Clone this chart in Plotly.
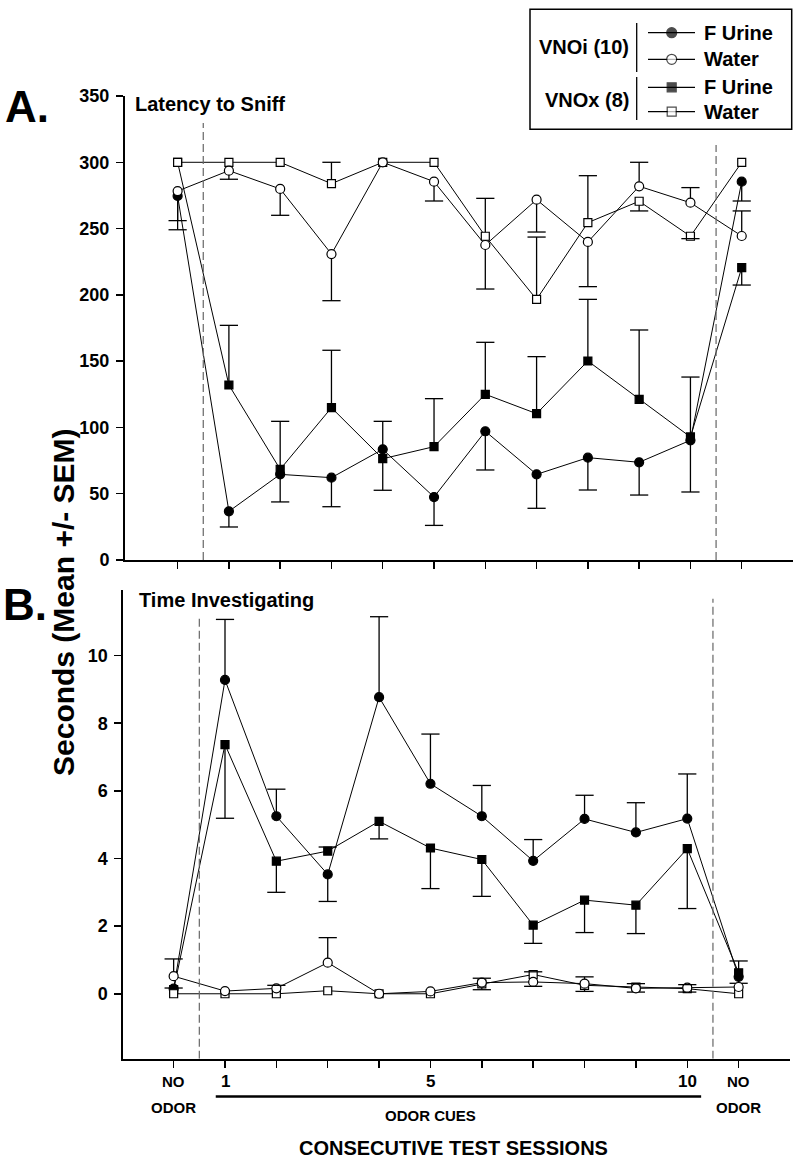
import plotly.graph_objects as go

# x positions: 0 = pre "NO ODOR", 1..10 odor-cue sessions, 11 = post "NO ODOR"
sessions = list(range(12))

# ---------- Panel A: Latency to Sniff (s) ----------
latA_vnoi_urine = [274.6, 36.7, 64.6, 62.1, 83.5, 47.5, 97.1, 64.6, 77.2, 73.7, 90.3, 285.4]
latA_vnoi_urine_up = [0, 0, 0, 0, 0, 0, 0, 0, 0, 0, 0, 0]
latA_vnoi_urine_dn = [25.5, 11.8, 20.8, 21.9, 30.9, 21.4, 29.2, 25.6, 24.4, 24.7, 39.0, 14.6]

latA_vnoi_water = [278.3, 293.7, 279.9, 230.8, 300.0, 285.4, 237.6, 271.8, 239.9, 281.9, 269.5, 244.4]
latA_vnoi_water_up = [0, 0, 0, 0, 0, 0, 0, 0, 0, 18.1, 11.4, 18.9]
latA_vnoi_water_dn = [22.3, 6.5, 19.9, 35.2, 0, 14.6, 33.2, 24.4, 33.7, 0, 0, 0]

latA_vnox_urine = [300.0, 132.0, 68.4, 114.9, 76.4, 85.5, 125.0, 110.4, 150.1, 121.2, 92.8, 220.5]
latA_vnox_urine_up = [0, 45.0, 36.2, 43.3, 28.2, 36.2, 39.2, 43.0, 46.5, 52.3, 45.2, 0]
latA_vnox_urine_dn = [0, 0, 0, 0, 0, 0, 0, 0, 0, 0, 0, 13.1]

latA_vnox_water = [300.0, 300.0, 300.0, 283.9, 300.0, 300.0, 244.2, 196.6, 254.5, 270.6, 244.2, 300.0]
latA_vnox_water_up = [0, 0, 0, 16.1, 0, 0, 28.6, 47.0, 35.4, 0, 0, 0]
latA_vnox_water_dn = [0, 0, 0, 0, 0, 0, 0, 0, 0, 7.3, 1.8, 0]

# ---------- Panel B: Time Investigating (s) ----------
invB_vnoi_urine = [0.15, 9.28, 5.25, 3.53, 8.77, 6.21, 5.25, 3.93, 5.17, 4.77, 5.18, 0.50]
invB_vnoi_urine_up = [0, 1.79, 0.80, 0, 2.38, 1.47, 0.91, 0.63, 0.70, 0.88, 1.32, 0.47]
invB_vnoi_urine_dn = [0, 0, 0, 0.80, 0, 0, 0, 0, 0, 0, 0, 0]

invB_vnoi_water = [0.52, 0.08, 0.16, 0.92, 0.0, 0.07, 0.33, 0.35, 0.30, 0.16, 0.18, 0.20]
invB_vnoi_water_up = [0.51, 0, 0.09, 0.74, 0, 0, 0.13, 0, 0.20, 0.14, 0.09, 0]
invB_vnoi_water_dn = [0, 0, 0, 0, 0, 0, 0, 0.13, 0, 0, 0, 0]

invB_vnox_urine = [0.12, 7.37, 3.92, 4.22, 5.10, 4.31, 3.97, 2.03, 2.77, 2.62, 4.29, 0.62]
invB_vnox_urine_up = [0, 0, 0, 0.12, 0, 0, 0, 0, 0, 0, 0, 0]
invB_vnox_urine_dn = [0, 2.18, 0.92, 0, 0.52, 1.20, 1.09, 0.54, 0.96, 0.84, 1.77, 0.31]

invB_vnox_water = [0.0, 0.0, 0.0, 0.09, 0.0, 0.0, 0.29, 0.57, 0.25, 0.20, 0.15, 0.0]
invB_vnox_water_up = [0.17, 0, 0, 0, 0, 0, 0, 0.08, 0, 0, 0, 0]
invB_vnox_water_dn = [0, 0, 0, 0, 0, 0, 0.17, 0, 0.18, 0.15, 0.10, 0]

# tick labels of the session axis
tick_top = ["NO", "1", "", "", "", "5", "", "", "", "", "10", "NO"]
tick_bottom = ["ODOR", "", "", "", "", "", "", "", "", "", "", "ODOR"]

legend_groups = ["VNOi (10)", "VNOx (8)"]
legend_items = ["F Urine", "Water", "F Urine", "Water"]

FONT = "Arial, 'Liberation Sans', sans-serif"
W, H = 800, 1164

fig = go.Figure()


def add_series(xa, ya, y, up, dn, symbol, filled, size):
    fig.add_trace(go.Scatter(
        x=sessions, y=y, xaxis=xa, yaxis=ya, mode="lines+markers",
        line=dict(color="black", width=1),
        marker=dict(symbol=symbol, size=size, color="black" if filled else "white",
                    line=dict(color="black", width=1.2)),
        error_y=dict(type="data", symmetric=False, array=up, arrayminus=dn,
                     color="black", thickness=1.3, width=0),
        showlegend=False, cliponaxis=False, hoverinfo="x+y"))
    cx = [s for s, e in zip(sessions, up) if e > 0] + [s for s, e in zip(sessions, dn) if e > 0]
    cy = [v + e for v, e in zip(y, up) if e > 0] + [v - e for v, e in zip(y, dn) if e > 0]
    fig.add_trace(go.Scatter(
        x=cx, y=cy, xaxis=xa, yaxis=ya, mode="markers",
        marker=dict(symbol="line-ew", size=13, color="black",
                    line=dict(color="black", width=1.3)),
        showlegend=False, cliponaxis=False, hoverinfo="skip"))


# Panel A
add_series("x", "y", latA_vnox_urine, latA_vnox_urine_up, latA_vnox_urine_dn, "square", True, 8)
add_series("x", "y", latA_vnoi_urine, latA_vnoi_urine_up, latA_vnoi_urine_dn, "circle", True, 9)
add_series("x", "y", latA_vnox_water, latA_vnox_water_up, latA_vnox_water_dn, "square", False, 8)
add_series("x", "y", latA_vnoi_water, latA_vnoi_water_up, latA_vnoi_water_dn, "circle", False, 9)
# Panel B
add_series("x2", "y2", invB_vnox_urine, invB_vnox_urine_up, invB_vnox_urine_dn, "square", True, 8)
add_series("x2", "y2", invB_vnoi_urine, invB_vnoi_urine_up, invB_vnoi_urine_dn, "circle", True, 9)
add_series("x2", "y2", invB_vnox_water, invB_vnox_water_up, invB_vnox_water_dn, "square", False, 8)
add_series("x2", "y2", invB_vnoi_water, invB_vnoi_water_up, invB_vnoi_water_dn, "circle", False, 9)

# Legend sample markers (pixel overlay axis)
leg_rows = [32.7, 59.3, 87.3, 111.7]
fig.add_trace(go.Scatter(
    x=[671.7] * 4, y=leg_rows, xaxis="x3", yaxis="y3", mode="markers",
    marker=dict(symbol=["circle", "circle", "square", "square"], size=[10, 10, 9, 9],
                color=["black", "white", "black", "white"], line=dict(color="black", width=1.2)),
    showlegend=False, hoverinfo="skip", cliponaxis=False))

tickfont = dict(family=FONT, size=18, color="black", weight="bold")
common_x = dict(showline=True, linewidth=2, linecolor="black", ticks="outside", ticklen=7,
                tickwidth=1.5, tickcolor="black", tickvals=sessions, showticklabels=False,
                showgrid=False, zeroline=False, fixedrange=True, automargin=False)
common_y = dict(showline=True, linewidth=2, linecolor="black", ticks="outside", ticklen=7,
                tickwidth=1.5, tickcolor="black", tickfont=tickfont, showgrid=False,
                zeroline=False, fixedrange=True, automargin=False, ticklabelstandoff=3)

fig.update_layout(
    width=W, height=H, margin=dict(l=0, r=0, t=0, b=0, pad=0, autoexpand=False),
    paper_bgcolor="white", plot_bgcolor="rgba(0,0,0,0)", showlegend=False,
    font=dict(family=FONT, color="black"),
    xaxis=dict(domain=[125 / W, 793 / W], range=[-1.026, 12.0], anchor="y", **common_x),
    yaxis=dict(domain=[1 - 560 / H, 1 - 96 / H], range=[0, 350], anchor="x",
               tickvals=[0, 50, 100, 150, 200, 250, 300, 350], **common_y),
    xaxis2=dict(domain=[123.3 / W, 790 / W], range=[-0.98, 12.0], anchor="y2", **common_x),
    yaxis2=dict(domain=[1 - 1058.7 / H, 1 - 590 / H], range=[-1.92, 11.94], anchor="x2",
                tickvals=[0, 2, 4, 6, 8, 10], **common_y),
    xaxis3=dict(domain=[0, 1], range=[0, W], anchor="y3", visible=False, fixedrange=True,
                automargin=False),
    yaxis3=dict(domain=[0, 1], range=[H, 0], anchor="x3", visible=False, fixedrange=True,
                automargin=False),
)

shapes = []
dash = dict(color="#666666", width=1.2, dash="8px,4px")
# vertical dashed separators
shapes.append(dict(type="line", xref="x", yref="y", x0=0.5, x1=0.5, y0=0, y1=329.6, line=dash))
shapes.append(dict(type="line", xref="x", yref="y", x0=10.5, x1=10.5, y0=0, y1=313, line=dash))
shapes.append(dict(type="line", xref="x2", yref="y2", x0=0.5, x1=0.5, y0=-1.92, y1=11.13, line=dash))
shapes.append(dict(type="line", xref="x2", yref="y2", x0=10.5, x1=10.5, y0=-1.92, y1=11.68, line=dash))
# odor-cues bar under session axis
shapes.append(dict(type="line", xref="x2", yref="y3", x0=0.82, x1=10.27, y0=1096.5, y1=1096.5,
                   line=dict(color="black", width=2.5)))
# legend box
shapes.append(dict(type="rect", xref="x3", yref="y3", x0=530, x1=791.7, y0=9.3, y1=129.3,
                   line=dict(color="black", width=1.5), fillcolor="rgba(0,0,0,0)"))
shapes.append(dict(type="line", xref="x3", yref="y3", x0=636.7, x1=636.7, y0=23, y1=72,
                   line=dict(color="black", width=1.3)))
shapes.append(dict(type="line", xref="x3", yref="y3", x0=636.7, x1=636.7, y0=77, y1=120,
                   line=dict(color="black", width=1.3)))
for ry in leg_rows:
    shapes.append(dict(type="line", xref="x3", yref="y3", x0=648, x1=695, y0=ry, y1=ry,
                       line=dict(color="black", width=1.2), layer="below"))
fig.update_layout(shapes=shapes)

ann = []


def px_text(x, y, text, size, bold=True, xanchor="center", textangle=0):
    ann.append(dict(x=x, y=y, xref="x3", yref="y3", text=text, showarrow=False,
                    xanchor=xanchor, yanchor="middle", textangle=textangle,
                    font=dict(family=FONT, size=size, color="black",
                              weight="bold" if bold else "normal")))


px_text(27, 106, "A.", 44)
px_text(25, 604, "B.", 44)
px_text(133, 104, "Latency to Sniff", 20, xanchor="left")
px_text(137, 600, "Time Investigating", 20, xanchor="left")
px_text(63, 602, "Seconds (Mean +/- SEM)", 30, textangle=-90)
px_text(453, 1148, "CONSECUTIVE TEST SESSIONS", 20)
# legend texts
px_text(631, 46.7, legend_groups[0], 20, xanchor="right")
px_text(631, 100, legend_groups[1], 20, xanchor="right")
for ry, t in zip(leg_rows, legend_items):
    px_text(702, ry, t, 20, xanchor="left")

# session-axis labels
for s, t1, t2 in zip(sessions, tick_top, tick_bottom):
    if t1:
        sz = 15 if t1 == "NO" else 17
        ann.append(dict(x=s, y=1081, xref="x2", yref="y3", text=t1, showarrow=False,
                        xanchor="center", yanchor="middle",
                        font=dict(family=FONT, size=sz, color="black", weight="bold")))
    if t2:
        ann.append(dict(x=s, y=1107, xref="x2", yref="y3", text=t2, showarrow=False,
                        xanchor="center", yanchor="middle",
                        font=dict(family=FONT, size=15, color="black", weight="bold")))
ann.append(dict(x=5, y=1115, xref="x2", yref="y3", text="ODOR CUES", showarrow=False,
                xanchor="center", yanchor="middle",
                font=dict(family=FONT, size=15, color="black", weight="bold")))
fig.update_layout(annotations=ann)

fig.write_html(
    "out.html",
    config={"displayModeBar": False, "staticPlot": True},
    post_script="document.body.style.margin='0';document.body.style.padding='0';"
                "document.documentElement.style.overflow='hidden';",
)
